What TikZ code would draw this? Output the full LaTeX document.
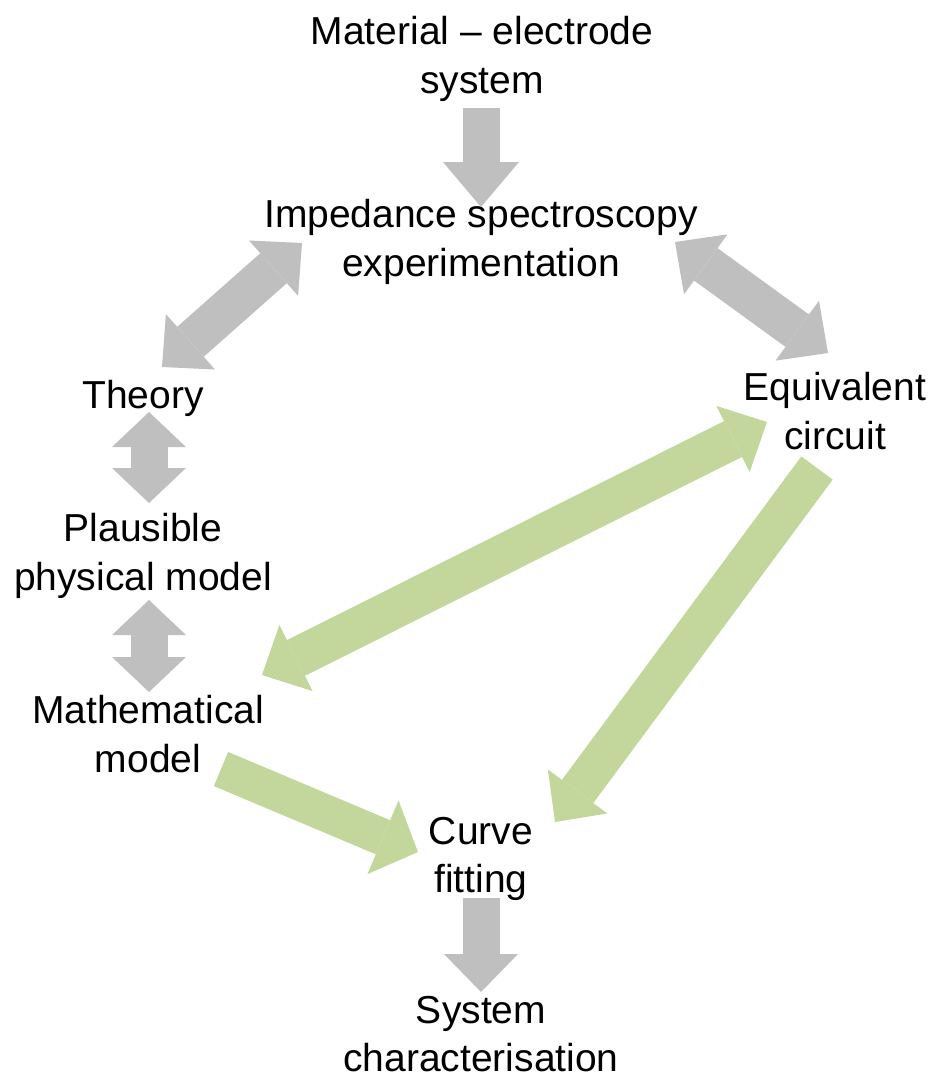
\documentclass[tikz,border=0pt]{standalone}
\usepackage{fontspec}
\setmainfont{Liberation Sans}
\usetikzlibrary{arrows.meta}
\definecolor{arrgray}{HTML}{BFBFBF}
\definecolor{arrgreen}{HTML}{C3D69B}
\tikzset{
  midtip/.tip={Triangle[length=38pt,width=74pt,line width=0pt]},
  longtip/.tip={Triangle[length=45pt,width=76pt,line width=0pt]},
  shorttip/.tip={Triangle[length=35pt,width=74pt,line width=0pt]},
  widetip/.tip={Triangle[length=38pt,width=80pt,line width=0pt]},
  lbl/.style={align=center,inner sep=0pt,font=\fontsize{39}{48.5}\selectfont},
  blockarrow/.style={line width=37pt,line cap=butt},
  grayarrow/.style={blockarrow,draw=arrgray,fill=arrgray},
  greenarrow/.style={blockarrow,draw=arrgreen,fill=arrgreen}
}
\begin{document}
\begin{tikzpicture}[x=1pt,y=-1pt]
\useasboundingbox (0,0) rectangle (932,1080);
% text nodes
\node[lbl] (mat) at (482,59) {Material -- electrode\\system};
\node[lbl] (imp) at (481,242) {Impedance spectroscopy\\experimentation};
\node[lbl] (the) at (143,398) {Theory};
\node[lbl] (equ) at (835,411) {Equivalent\\circuit};
\node[lbl] (pla) at (143,556) {Plausible\\physical model};
\node[lbl] (mth) at (148,734) {Mathematical\\model};
\node[lbl] (cur) at (481,859) {Curve\\fitting};
\node[lbl] (sys) at (481,1034) {System\\characterisation};
% arrow end points
\coordinate (a1s) at (481,108);  \coordinate (a1e) at (481,207);
\coordinate (a2s) at (162,367);  \coordinate (a2e) at (302,243);
\coordinate (a3s) at (675,242);  \coordinate (a3e) at (828,353);
\coordinate (a4s) at (149,412);  \coordinate (a4e) at (149,503);
\coordinate (a5s) at (149,600);  \coordinate (a5e) at (149,692);
\coordinate (a6s) at (262,675);  \coordinate (a6e) at (767,422);
\coordinate (a7s) at (817,468);  \coordinate (a7e) at (555,822);
\coordinate (a8s) at (221,769);  \coordinate (a8e) at (418,852);
\coordinate (a9s) at (481,898);  \coordinate (a9e) at (481,992);
% gray arrows
\draw[grayarrow,-longtip] (a1s) -- (a1e);
\draw[grayarrow,line width=40pt,midtip-midtip] (a2s) -- (a2e);
\draw[grayarrow,line width=40pt,midtip-midtip] (a3s) -- (a3e);
\draw[grayarrow,shorttip-shorttip] (a4s) -- (a4e);
\draw[grayarrow,shorttip-shorttip] (a5s) -- (a5e);
\draw[grayarrow,-midtip] (a9s) -- (a9e);
% green arrows
\draw[greenarrow,line width=40pt,midtip-midtip] (a6s) -- (a6e);
\draw[greenarrow,line width=39pt,-midtip] (a7s) -- (a7e);
\draw[greenarrow,-widetip] (a8s) -- (a8e);
\end{tikzpicture}
\end{document}
